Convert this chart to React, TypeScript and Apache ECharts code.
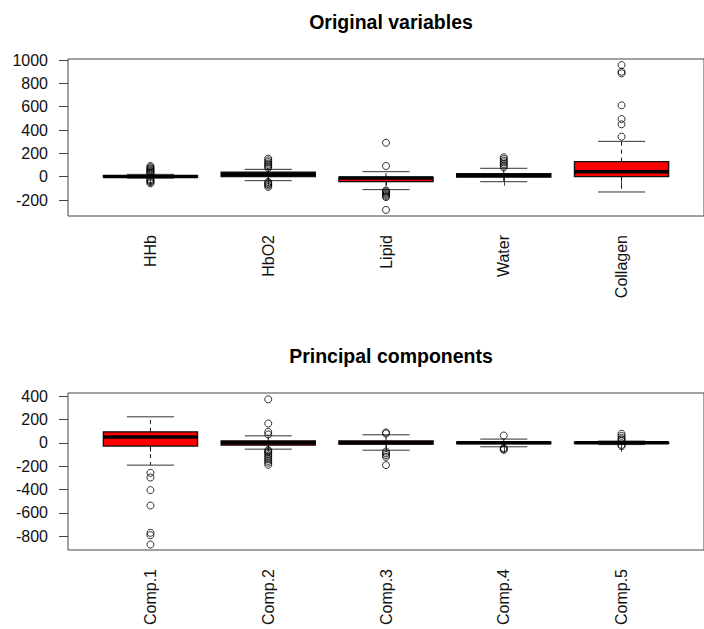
import React, { useEffect, useRef } from "react";
import * as echarts from "echarts";

// ---------- data ----------
const origCategories = ["HHb", "HbO2", "Lipid", "Water", "Collagen"];
// [lowWhisker, Q1, median, Q3, highWhisker]
const origStats = [
  [-12, -4, 2, 8, 20],
  [-34, 0, 18, 38, 63],
  [-111, -43, -12, -5, 43],
  [-43, -3, 10, 26, 72],
  [-131, 0, 43, 129, 303],
];
const origOutliers = [
  [25, 32, 40, 48, 56, 64, 72, 82, 92, -22, -30, -38, -47, -57],
  [75, 88, 100, 112, 125, 140, 155, -45, -55, -65, -75, -88],
  [92, 291, -118, -126, -135, -145, -155, -165, -175, -285],
  [80, 95, 109, 123, 137, 152, 166],
  [343, 449, 494, 612, 886, 900, 957],
];
const origTicks = [-200, 0, 200, 400, 600, 800, 1000];

const pcCategories = ["Comp.1", "Comp.2", "Comp.3", "Comp.4", "Comp.5"];
const pcStats = [
  [-191, -28, 51, 94, 223],
  [-54, -20, 0, 17, 60],
  [-63, -11, 0, 17, 69],
  [-34, -6, 0, 6, 32],
  [-15, -4, 0, 4, 15],
];
const pcOutliers = [
  [-257, -297, -405, -537, -771, -791, -871],
  [72, 94, 166, 373, -63, -72, -82, -95, -110, -125, -140, -155, -170, -188],
  [80, 89, -75, -90, -105, -120, -191],
  [63, -45, -52, -60],
  [18, 30, 43, 60, 78, -18, -28],
];
const pcTicks = [-800, -600, -400, -200, 0, 200, 400];

// ---------- helpers ----------
const FONT = "'Liberation Sans', Arial, Helvetica, sans-serif";
const FRAME = "#444";

function boxData(stats: number[][]) {
  return stats.map((s, i) => [i + 1, ...s]);
}
function outlierData(outs: number[][]) {
  const res: number[][] = [];
  outs.forEach((arr, i) => arr.forEach((v) => res.push([i + 1, v])));
  return res;
}

function renderBox(params: any, api: any) {
  const x = api.value(0);
  const lo = api.value(1);
  const q1 = api.value(2);
  const med = api.value(3);
  const q3 = api.value(4);
  const hi = api.value(5);
  const hw = 0.4;
  const sw = 0.2;
  const c = api.coord([x, med]);
  const left = api.coord([x - hw, q3]);
  const right = api.coord([x + hw, q1]);
  const yLo = api.coord([x, lo])[1];
  const yHi = api.coord([x, hi])[1];
  const sL = api.coord([x - sw, lo])[0];
  const sR = api.coord([x + sw, lo])[0];
  const line = (x1: number, y1: number, x2: number, y2: number, style: any) => ({
    type: "line",
    shape: { x1, y1, x2, y2 },
    style: Object.assign({ stroke: "#111", lineWidth: 1 }, style),
  });
  return {
    type: "group",
    children: [
      line(c[0], left[1], c[0], yHi, { lineDash: [4, 4] }),
      line(c[0], right[1], c[0], yLo, { lineDash: [4, 4] }),
      line(sL, yHi, sR, yHi, { stroke: "#333" }),
      line(sL, yLo, sR, yLo, { stroke: "#333" }),
      {
        type: "rect",
        shape: {
          x: left[0],
          y: left[1],
          width: right[0] - left[0],
          height: Math.max(right[1] - left[1], 0.5),
        },
        style: { fill: "#ff0000", stroke: "#111", lineWidth: 1.3 },
      },
      line(left[0], c[1], right[0], c[1], { stroke: "#000", lineWidth: 3.5 }),
    ],
  };
}

function makeAxes(idx: number, cats: string[], ticks: number[], min: number, max: number) {
  const xAxis = {
    type: "value",
    gridIndex: idx,
    min: 0.3,
    max: 5.7,
    splitLine: { show: false },
    axisLine: { show: false },
    axisTick: {
      show: true,
      length: 9,
      customValues: [1, 2, 3, 4, 5],
      lineStyle: { color: FRAME },
    },
    axisLabel: {
      customValues: [1, 2, 3, 4, 5],
      rotate: 90,
      margin: 19,
      fontSize: 16,
      fontFamily: FONT,
      color: "#111",
      formatter: (v: number) => cats[Math.round(v) - 1] ?? "",
    },
  };
  const yAxis = {
    type: "value",
    gridIndex: idx,
    min,
    max,
    splitLine: { show: false },
    axisLine: { show: false },
    axisTick: {
      show: true,
      length: 9,
      customValues: ticks,
      lineStyle: { color: FRAME },
    },
    axisLabel: {
      customValues: ticks,
      margin: 20,
      fontSize: 16,
      fontFamily: FONT,
      color: "#111",
      formatter: (v: number) => String(v),
    },
  };
  return { xAxis, yAxis };
}

export default function App() {
  const ref = useRef<HTMLDivElement>(null);
  useEffect(() => {
    if (!ref.current) return;
    const chart = echarts.init(ref.current, null, { renderer: "svg" });
    const a0 = makeAxes(0, origCategories, origTicks, -337, 1009);
    const a1 = makeAxes(1, pcCategories, pcTicks, -918, 427);
    const outlierStyle = {
      color: "transparent",
      borderColor: "#000",
      borderWidth: 1,
    };
    const titleStyle = { fontSize: 19.5, fontWeight: "bold", fontFamily: FONT, color: "#000" };
    chart.setOption({
      animation: false,
      backgroundColor: "#fff",
      title: [
        {
          text: "Original variables",
          left: 386,
          top: 7,
          textAlign: "center",
          textStyle: titleStyle,
        },
        {
          text: "Principal components",
          left: 386,
          top: 341,
          textAlign: "center",
          textStyle: titleStyle,
        },
      ],
      grid: [
        { left: 68, top: 59, width: 648, height: 157, show: true, borderColor: FRAME, borderWidth: 1, backgroundColor: "transparent" },
        { left: 68, top: 393, width: 648, height: 157, show: true, borderColor: FRAME, borderWidth: 1, backgroundColor: "transparent" },
      ],
      xAxis: [a0.xAxis, a1.xAxis],
      yAxis: [a0.yAxis, a1.yAxis],
      series: [
        {
          type: "custom",
          xAxisIndex: 0,
          yAxisIndex: 0,
          renderItem: renderBox,
          encode: { x: 0, y: [1, 2, 3, 4, 5] },
          data: boxData(origStats),
        },
        {
          type: "scatter",
          xAxisIndex: 0,
          yAxisIndex: 0,
          symbol: "circle",
          symbolSize: 7,
          itemStyle: outlierStyle,
          data: outlierData(origOutliers),
        },
        {
          type: "custom",
          xAxisIndex: 1,
          yAxisIndex: 1,
          renderItem: renderBox,
          encode: { x: 0, y: [1, 2, 3, 4, 5] },
          data: boxData(pcStats),
        },
        {
          type: "scatter",
          xAxisIndex: 1,
          yAxisIndex: 1,
          symbol: "circle",
          symbolSize: 7,
          itemStyle: outlierStyle,
          data: outlierData(pcOutliers),
        },
      ],
    });
    return () => chart.dispose();
  }, []);
  return (
    <div
      ref={ref}
      style={{ position: "absolute", left: 0, top: 0, width: 704, height: 629, background: "#fff" }}
    />
  );
}
